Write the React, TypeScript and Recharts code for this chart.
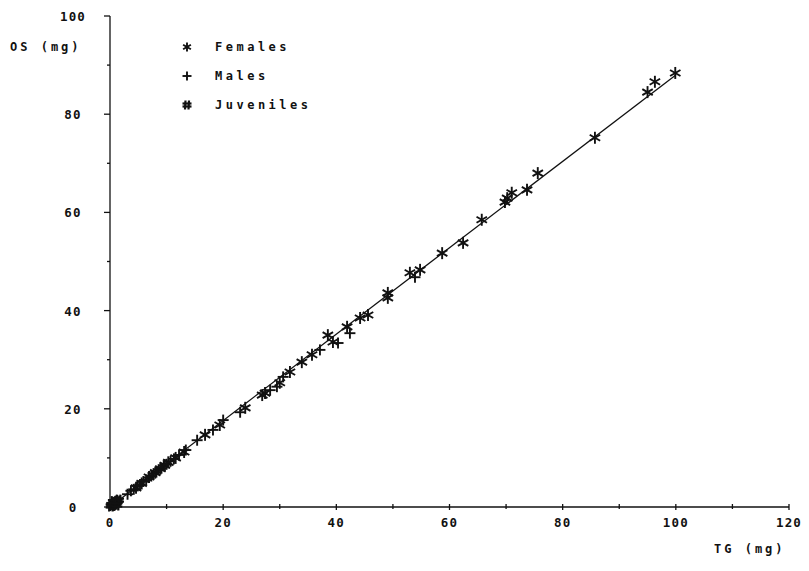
import { ScatterChart, Scatter, XAxis, YAxis, ReferenceLine } from "recharts";

const femalesTG = [4.6, 5.6, 6.9, 8.0, 8.9, 9.7, 10.3, 11.6, 13.1, 16.8, 19.4, 23.9, 26.9, 27.4, 30.0, 31.8, 33.9, 35.7, 38.5, 39.4, 41.9, 44.2, 45.6, 49.1, 49.1, 53.0, 54.8, 58.7, 62.4, 65.7, 69.8, 70.2, 71.0, 73.7, 75.6, 85.7, 95.0, 96.3, 99.9];
const femalesOS = [3.9, 4.8, 6.1, 7.0, 7.8, 8.5, 9.1, 10.0, 11.2, 14.7, 16.7, 20.2, 22.8, 23.2, 25.3, 27.5, 29.5, 31.0, 35.0, 33.6, 36.7, 38.5, 39.1, 43.6, 42.6, 47.7, 48.3, 51.7, 53.8, 58.5, 62.1, 62.9, 64.0, 64.6, 68.0, 75.2, 84.5, 86.6, 88.4];

const malesTG = [3.1, 3.7, 4.2, 4.9, 5.3, 5.9, 6.4, 6.8, 7.3, 7.7, 8.2, 8.6, 9.1, 9.5, 10.0, 10.7, 11.3, 12.2, 13.4, 15.4, 18.2, 20.0, 23.0, 28.3, 29.5, 30.6, 37.1, 40.3, 42.4, 53.9];
const malesOS = [2.6, 3.3, 3.6, 4.3, 4.6, 5.2, 5.5, 6.0, 6.3, 6.8, 7.1, 7.6, 7.9, 8.4, 8.7, 9.3, 9.8, 10.6, 11.6, 13.6, 15.7, 17.7, 19.3, 23.8, 24.5, 26.5, 32.0, 33.4, 35.4, 46.8];

const juvenilesTG = [0.2, 0.4, 0.5, 0.7, 0.8, 1.0, 1.1, 1.3, 0.3, 0.9, 1.5, 0.6, 1.2];
const juvenilesOS = [0.2, 0.3, 0.5, 0.6, 0.8, 0.9, 1.0, 1.2, 0.5, 0.6, 1.4, 1.1, 0.4];

// regression line end points
const fitTG = [0, 100];
const fitOS = [0, 88];

const xTicks = [0, 10, 20, 30, 40, 50, 60, 70, 80, 90, 100, 110, 120];
const yTicks = [0, 10, 20, 30, 40, 50, 60, 70, 80, 90, 100];

const zip = (xs: number[], ys: number[]) => xs.map((x, i) => ({ tg: x, os: ys[i] }));
const females = zip(femalesTG, femalesOS);
const males = zip(malesTG, malesOS);
const juveniles = zip(juvenilesTG, juvenilesOS);

const FONT = "'DejaVu Sans Mono', monospace";
const INK = "#111";

function Star({ cx, cy, r = 6 }: any) {
  const dx = r * 0.87;
  const dy = r * 0.5;
  return (
    <g stroke={INK} strokeWidth={1.9}>
      <line x1={cx} y1={cy - r} x2={cx} y2={cy + r} />
      <line x1={cx - dx} y1={cy - dy} x2={cx + dx} y2={cy + dy} />
      <line x1={cx - dx} y1={cy + dy} x2={cx + dx} y2={cy - dy} />
    </g>
  );
}

function Plus({ cx, cy, r = 5.5 }: any) {
  return (
    <g stroke={INK} strokeWidth={1.9}>
      <line x1={cx} y1={cy - r} x2={cx} y2={cy + r} />
      <line x1={cx - r} y1={cy} x2={cx + r} y2={cy} />
    </g>
  );
}

function Hash({ cx, cy, r = 5.5 }: any) {
  return (
    <g stroke={INK} strokeWidth={2.2}>
      <line x1={cx - 1.5} y1={cy - r} x2={cx - 2} y2={cy + r} />
      <line x1={cx + 2} y1={cy - r} x2={cx + 1.5} y2={cy + r} />
      <line x1={cx - r} y1={cy - 1.5} x2={cx + r} y2={cy - 1.5} />
      <line x1={cx - r} y1={cy + 1.5} x2={cx + r} y2={cy + 1.5} />
    </g>
  );
}

function YTick({ x, y, payload }: any) {
  const major = payload.value % 20 === 0;
  return (
    <g>
      <line x1={x - (major ? 6 : 3)} y1={y} x2={x} y2={y} stroke={INK} strokeWidth={1.3} />
      {major && (
        <text x={x - 37} y={y + 5} textAnchor="middle" fontFamily={FONT} fontSize={12.5} fontWeight="bold" letterSpacing={1.2} fill={INK}>
          {payload.value}
        </text>
      )}
    </g>
  );
}

function XTick({ x, y, payload }: any) {
  const major = payload.value % 20 === 0;
  return (
    <g>
      <line x1={x} y1={y - 3} x2={x} y2={y + (major ? 3 : 2)} stroke={INK} strokeWidth={1.3} />
      {major && (
        <text x={x} y={y + 20} textAnchor="middle" fontFamily={FONT} fontSize={12.5} fontWeight="bold" letterSpacing={1.2} fill={INK}>
          {payload.value}
        </text>
      )}
    </g>
  );
}

const legendItems = [
  { label: "Females", Icon: Star },
  { label: "Males", Icon: Plus },
  { label: "Juveniles", Icon: Hash },
];

const textStyle = {
  position: "absolute" as const,
  fontFamily: FONT,
  fontSize: 12,
  fontWeight: "bold" as const,
  letterSpacing: 3,
  color: INK,
  whiteSpace: "pre" as const,
  lineHeight: "14px",
};

export default function App() {
  return (
    <div style={{ position: "absolute", left: 0, top: 0, width: 809, height: 571, background: "#fff" }}>
      <ScatterChart width={809} height={571} margin={{ top: 16, right: 20, left: 0, bottom: 0 }}>
        <XAxis
          type="number"
          dataKey="tg"
          domain={[0, 120]}
          ticks={xTicks}
          interval={0}
          height={64}
          tickSize={0}
          tickMargin={0}
          tick={<XTick />}
          axisLine={{ stroke: INK, strokeWidth: 1.3 }}
        />
        <YAxis
          type="number"
          dataKey="os"
          domain={[0, 100]}
          ticks={yTicks}
          interval={0}
          width={110}
          tickSize={0}
          tickMargin={0}
          tick={<YTick />}
          axisLine={{ stroke: INK, strokeWidth: 1.3 }}
        />
        <ReferenceLine
          segment={[
            { x: fitTG[0], y: fitOS[0] },
            { x: fitTG[1], y: fitOS[1] },
          ]}
          stroke={INK}
          strokeWidth={1.3}
          ifOverflow="visible"
        />
        <Scatter name="Juveniles" data={juveniles} shape={<Hash />} isAnimationActive={false} />
        <Scatter name="Males" data={males} shape={<Plus />} isAnimationActive={false} />
        <Scatter name="Females" data={females} shape={<Star />} isAnimationActive={false} />
      </ScatterChart>
      {legendItems.map(({ label, Icon }, i) => (
        <div key={label} style={{ position: "absolute", left: 180, top: 40 + i * 29, display: "flex", alignItems: "center" }}>
          <svg width={14} height={14} style={{ marginRight: 21 }}>
            <Icon cx={7} cy={7} r={4.5} />
          </svg>
          <span style={{ ...textStyle, position: "static", letterSpacing: 3.5 }}>{label}</span>
        </div>
      ))}
      <div style={{ ...textStyle, left: 10, top: 40 }}>OS (mg)</div>
      <div style={{ ...textStyle, left: 714, top: 542 }}>TG (mg)</div>
    </div>
  );
}
